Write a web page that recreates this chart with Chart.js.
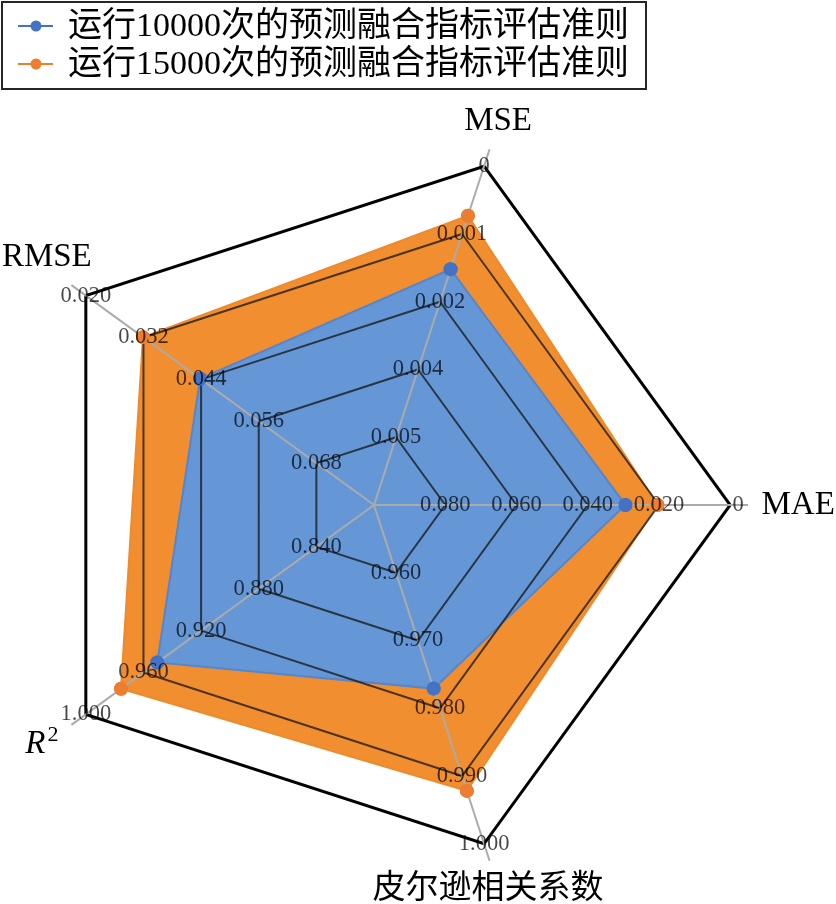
<!DOCTYPE html>
<html>
<head>
<meta charset="utf-8">
<script src="https://cdn.jsdelivr.net/npm/chart.js@4.4.1/dist/chart.umd.min.js"></script>
<style>
  html, body { margin: 0; padding: 0; background: #fff; }
  #wrap { width: 836px; height: 904px; position: relative; }
</style>
</head>
<body>
<div id="wrap"><canvas id="radar"></canvas></div>
<script>
// Axis titles, clockwise starting from the top one.
const axes = ["MSE", "MAE", "皮尔逊相关系数", "R²", "RMSE"];

// Every axis has its own scale. These are the numbers printed on
// rings 1..5, going from the centre outwards.
const mseTicks     = ["0.005", "0.004", "0.002", "0.001", "0"];
const maeTicks     = ["0.080", "0.060", "0.040", "0.020", "0"];
const pearsonTicks = ["0.960", "0.970", "0.980", "0.990", "1.000"];
const r2Ticks      = ["0.840", "0.880", "0.920", "0.960", "1.000"];
const rmseTicks    = ["0.068", "0.056", "0.044", "0.032", "0.020"];
const axisTicks = [mseTicks, maeTicks, pearsonTicks, r2Ticks, rmseTicks];

// ring levels of the shared radial scale (0 = centre)
const ringLevels = [0, 1, 2, 3, 4, 5];

const seriesNames = ["运行10000次的预测融合指标评估准则", "运行15000次的预测融合指标评估准则"];
// metric values, same order as `axes`
const run10000 = [0.00152, 0.0294, 0.9771, 0.9504, 0.0438];
const run15000 = [0.00073, 0.0204, 0.9922, 0.9756, 0.0319];

// Map a metric value onto the ring scale by interpolating between the
// printed ring values of that axis (the axes are not linear).
function toRing(value, ticks) {
  const t = ticks.map(Number);
  for (let k = 0; k < t.length - 1; k++) {
    const a = t[k], b = t[k + 1];
    if ((value - a) * (value - b) <= 0) return k + 1 + (value - a) / (b - a);
  }
  const k = Math.abs(value - t[0]) < Math.abs(value - t[t.length - 1]) ? 0 : t.length - 2;
  return k + 1 + (value - t[k]) / (t[k + 1] - t[k]);
}
const toRings = vals => vals.map((v, i) => toRing(v, axisTicks[i]));

const SERIF = "'Liberation Serif', 'Noto Sans CJK SC', serif";

// markers again on top of the grid, then ring numbers, axis titles, legend
const overlay = {
  id: "overlay",
  afterDraw(chart) {
    const r = chart.scales.r, ctx = chart.ctx;

    chart.data.datasets.forEach((ds, i) => {
      chart.getDatasetMeta(i).data.forEach(p => p.draw(ctx, chart.chartArea));
    });

    ctx.save();
    ctx.font = "22.5px " + SERIF;
    ctx.fillStyle = "rgba(0,0,0,0.72)";
    ctx.textAlign = "center";
    ctx.textBaseline = "middle";
    axisTicks.forEach((list, i) => list.forEach((txt, k) => {
      const p = r.getPointPositionForValue(i, k + 1);
      ctx.fillText(txt, p.x + (txt === "0" && i === 1 ? 8 : 0), p.y);
    }));

    // axis titles, placed relative to the outer ring corner
    const shift = [[14, -45], [68, 0], [4, 46], [-44, 28], [-39, -38]];
    ctx.fillStyle = "#000";
    chart.data.labels.forEach((lab, i) => {
      const v = r.getPointPositionForValue(i, 5);
      const cx = v.x + shift[i][0], cy = v.y + shift[i][1];
      if (lab.endsWith("²")) {
        ctx.font = "italic 33px " + SERIF;
        const wb = ctx.measureText(lab[0]).width;
        ctx.font = "22px " + SERIF;
        const ws = ctx.measureText("2").width;
        const x0 = cx - (wb + ws + 2) / 2;
        ctx.textAlign = "left";
        ctx.textBaseline = "alphabetic";
        ctx.font = "italic 33px " + SERIF;
        ctx.fillText(lab[0], x0, cy + 11);
        ctx.font = "22px " + SERIF;
        ctx.fillText("2", x0 + wb + 2, cy - 1);
        ctx.textAlign = "center";
        ctx.textBaseline = "middle";
      } else {
        ctx.font = "33px " + SERIF;
        ctx.fillText(lab, cx, cy);
      }
    });

    // legend box
    ctx.strokeStyle = "#262626";
    ctx.lineWidth = 2;
    ctx.strokeRect(2, 2, 644, 87);
    ctx.font = "34px " + SERIF;
    ctx.textAlign = "left";
    chart.data.datasets.forEach((ds, i) => {
      const y = 27 + i * 38;
      ctx.strokeStyle = ds.legendLine;
      ctx.lineWidth = 2;
      ctx.beginPath();
      ctx.moveTo(18, y - 1);
      ctx.lineTo(53, y - 1);
      ctx.stroke();
      ctx.fillStyle = ds.pointBackgroundColor;
      ctx.beginPath();
      ctx.arc(36, y - 1, 5.5, 0, Math.PI * 2);
      ctx.fill();
      ctx.fillStyle = "#000";
      ctx.fillText(ds.label, 68, y);
    });
    ctx.restore();
  }
};

new Chart(document.getElementById("radar"), {
  type: "radar",
  data: {
    labels: axes,
    datasets: [{
      label: seriesNames[0],
      data: toRings(run10000),
      fill: true,
      backgroundColor: "#6597d7",
      borderColor: "#5585cc",
      borderWidth: 2,
      pointBackgroundColor: "#4472c4",
      pointBorderColor: "#4472c4",
      pointRadius: 6,
      legendLine: "#4472c4",
    }, {
      label: seriesNames[1],
      data: toRings(run15000),
      fill: true,
      backgroundColor: "#f18e30",
      borderColor: "#ee8a2c",
      borderWidth: 2,
      pointBackgroundColor: "#ed7d31",
      pointBorderColor: "#ed7d31",
      pointRadius: 6,
      legendLine: "#ed7d31",
    }]
  },
  options: {
    responsive: true, maintainAspectRatio: false, animation: false,
    layout: { padding: { left: 0, right: 88, top: 130, bottom: 24 } },
    plugins: { legend: { display: false }, tooltip: { enabled: false } },
    scales: {
      r: {
        min: 0, max: 5.25, startAngle: 18, z: 1,
        afterBuildTicks: s => { s.ticks = ringLevels.map(v => ({ value: v })); },
        ticks: { display: false },
        pointLabels: { display: false },
        grid: {
          z: 1,
          color: c => c.index === 5 ? "#000" : "rgba(20,20,20,0.75)",
          lineWidth: c => c.index === 5 ? 3 : 2,
        },
        angleLines: { color: "#ababab", lineWidth: 2 },
      }
    }
  },
  plugins: [overlay]
});
</script>
</body>
</html>
